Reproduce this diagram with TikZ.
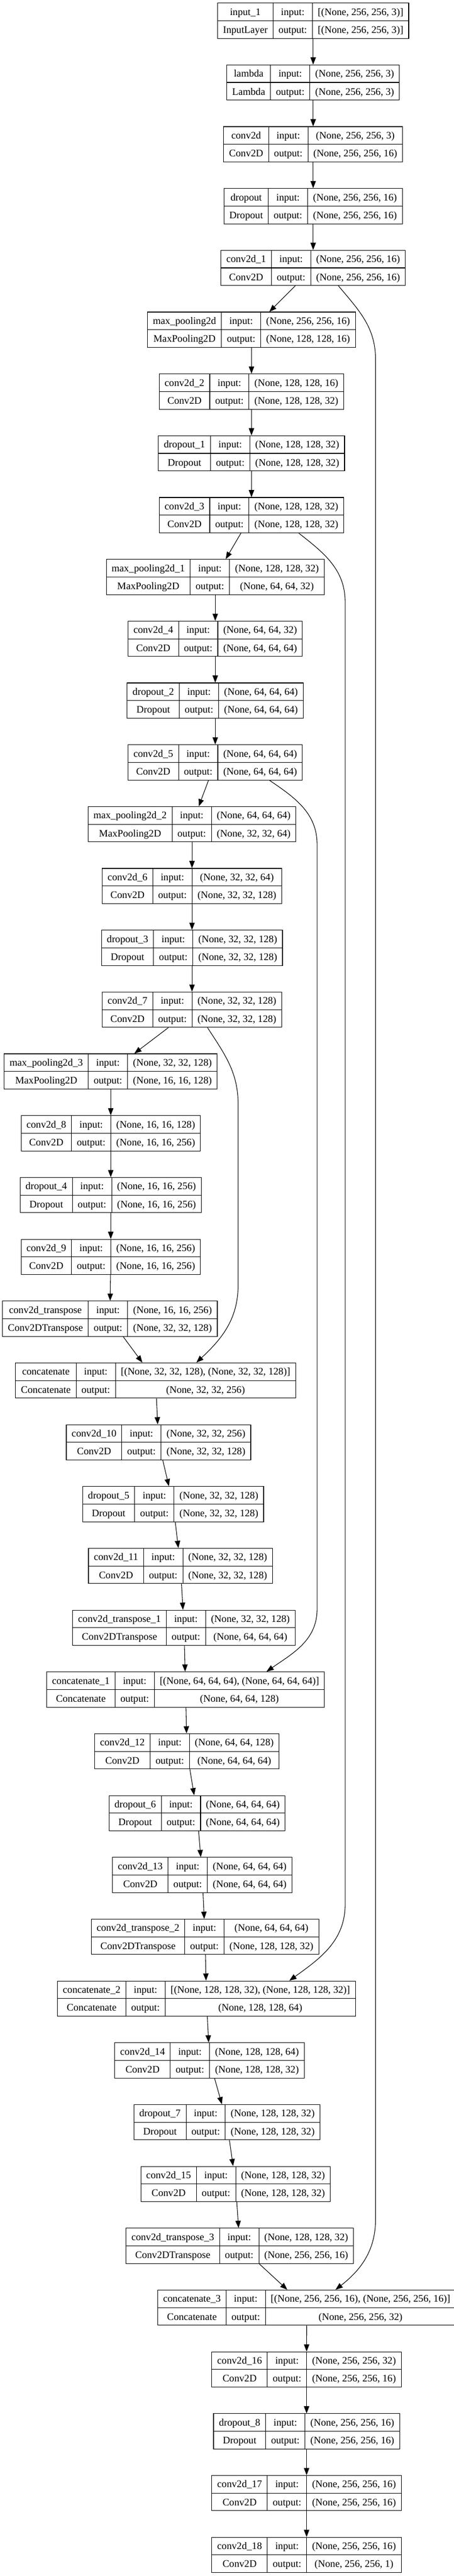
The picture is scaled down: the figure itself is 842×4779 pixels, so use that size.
\documentclass[tikz,border=0pt]{standalone}
\usepackage{fontspec}
\setmainfont{Liberation Serif}
\usetikzlibrary{arrows.meta}

\setlength{\tabcolsep}{7.5pt}
\setlength{\arrayrulewidth}{0.8pt}
\renewcommand{\arraystretch}{1.42}
\newcommand{\keraslayer}[4]{\begin{tabular}{c|c|c}#1 & input: & #3\\\hline #2 & output: & #4\end{tabular}}

\tikzset{
  layerbox/.style={draw, line width=0.8pt, inner sep=0pt, font=\fontsize{14}{17}\selectfont},
  flow/.style={-{Triangle[length=10pt,width=7.5pt]}, line width=0.8pt}
}

\begin{document}
\begin{tikzpicture}[x=0.75pt,y=-0.75pt]
\useasboundingbox (0,0) rectangle (842,4779);

% encoder
\node[layerbox] (in1) at (580.8,38.4) {\keraslayer{input\_1}{InputLayer}{[(None, 256, 256, 3)]}{[(None, 256, 256, 3)]}};
\node[layerbox] (lam) at (580.8,153.0) {\keraslayer{lambda}{Lambda}{(None, 256, 256, 3)}{(None, 256, 256, 3)}};
\node[layerbox] (c0) at (580.8,267.7) {\keraslayer{conv2d}{Conv2D}{(None, 256, 256, 3)}{(None, 256, 256, 16)}};
\node[layerbox] (d0) at (580.8,382.4) {\keraslayer{dropout}{Dropout}{(None, 256, 256, 16)}{(None, 256, 256, 16)}};
\node[layerbox] (c1) at (580.8,497.0) {\keraslayer{conv2d\_1}{Conv2D}{(None, 256, 256, 16)}{(None, 256, 256, 16)}};
\node[layerbox] (p0) at (466.4,611.7) {\keraslayer{max\_pooling2d}{MaxPooling2D}{(None, 256, 256, 16)}{(None, 128, 128, 16)}};
\node[layerbox] (c2) at (466.4,726.4) {\keraslayer{conv2d\_2}{Conv2D}{(None, 128, 128, 16)}{(None, 128, 128, 32)}};
\node[layerbox] (d1) at (466.4,841.0) {\keraslayer{dropout\_1}{Dropout}{(None, 128, 128, 32)}{(None, 128, 128, 32)}};
\node[layerbox] (c3) at (466.4,955.7) {\keraslayer{conv2d\_3}{Conv2D}{(None, 128, 128, 32)}{(None, 128, 128, 32)}};
\node[layerbox] (p1) at (399.2,1070.4) {\keraslayer{max\_pooling2d\_1}{MaxPooling2D}{(None, 128, 128, 32)}{(None, 64, 64, 32)}};
\node[layerbox] (c4) at (399.2,1185.1) {\keraslayer{conv2d\_4}{Conv2D}{(None, 64, 64, 32)}{(None, 64, 64, 64)}};
\node[layerbox] (d2) at (399.2,1299.7) {\keraslayer{dropout\_2}{Dropout}{(None, 64, 64, 64)}{(None, 64, 64, 64)}};
\node[layerbox] (c5) at (399.2,1414.4) {\keraslayer{conv2d\_5}{Conv2D}{(None, 64, 64, 64)}{(None, 64, 64, 64)}};
\node[layerbox] (p2) at (356.1,1529.1) {\keraslayer{max\_pooling2d\_2}{MaxPooling2D}{(None, 64, 64, 64)}{(None, 32, 32, 64)}};
\node[layerbox] (c6) at (356.1,1643.7) {\keraslayer{conv2d\_6}{Conv2D}{(None, 32, 32, 64)}{(None, 32, 32, 128)}};
\node[layerbox] (d3) at (356.1,1758.4) {\keraslayer{dropout\_3}{Dropout}{(None, 32, 32, 128)}{(None, 32, 32, 128)}};
\node[layerbox] (c7) at (356.1,1873.1) {\keraslayer{conv2d\_7}{Conv2D}{(None, 32, 32, 128)}{(None, 32, 32, 128)}};
\node[layerbox] (p3) at (205.4,1987.7) {\keraslayer{max\_pooling2d\_3}{MaxPooling2D}{(None, 32, 32, 128)}{(None, 16, 16, 128)}};
\node[layerbox] (c8) at (205.4,2102.4) {\keraslayer{conv2d\_8}{Conv2D}{(None, 16, 16, 128)}{(None, 16, 16, 256)}};
\node[layerbox] (d4) at (205.4,2217.1) {\keraslayer{dropout\_4}{Dropout}{(None, 16, 16, 256)}{(None, 16, 16, 256)}};
\node[layerbox] (c9) at (205.4,2331.8) {\keraslayer{conv2d\_9}{Conv2D}{(None, 16, 16, 256)}{(None, 16, 16, 256)}};

% decoder
\node[layerbox] (u0) at (203.8,2446.4) {\keraslayer{conv2d\_transpose}{Conv2DTranspose}{(None, 16, 16, 256)}{(None, 32, 32, 128)}};
\node[layerbox] (cat0) at (288.6,2561.1) {\keraslayer{concatenate}{Concatenate}{[(None, 32, 32, 128), (None, 32, 32, 128)]}{(None, 32, 32, 256)}};
\node[layerbox] (c10) at (294.0,2675.8) {\keraslayer{conv2d\_10}{Conv2D}{(None, 32, 32, 256)}{(None, 32, 32, 128)}};
\node[layerbox] (d5) at (321.1,2790.4) {\keraslayer{dropout\_5}{Dropout}{(None, 32, 32, 128)}{(None, 32, 32, 128)}};
\node[layerbox] (c11) at (334.7,2905.1) {\keraslayer{conv2d\_11}{Conv2D}{(None, 32, 32, 128)}{(None, 32, 32, 128)}};
\node[layerbox] (u1) at (341.2,3019.8) {\keraslayer{conv2d\_transpose\_1}{Conv2DTranspose}{(None, 32, 32, 128)}{(None, 64, 64, 64)}};
\node[layerbox] (cat1) at (344.2,3134.4) {\keraslayer{concatenate\_1}{Concatenate}{[(None, 64, 64, 64), (None, 64, 64, 64)]}{(None, 64, 64, 128)}};
\node[layerbox] (c12) at (346.6,3249.1) {\keraslayer{conv2d\_12}{Conv2D}{(None, 64, 64, 128)}{(None, 64, 64, 64)}};
\node[layerbox] (d6) at (365.6,3363.8) {\keraslayer{dropout\_6}{Dropout}{(None, 64, 64, 64)}{(None, 64, 64, 64)}};
\node[layerbox] (c13) at (375.1,3478.5) {\keraslayer{conv2d\_13}{Conv2D}{(None, 64, 64, 64)}{(None, 64, 64, 64)}};
\node[layerbox] (u2) at (380.2,3593.1) {\keraslayer{conv2d\_transpose\_2}{Conv2DTranspose}{(None, 64, 64, 64)}{(None, 128, 128, 32)}};
\node[layerbox] (cat2) at (382.9,3707.8) {\keraslayer{concatenate\_2}{Concatenate}{[(None, 128, 128, 32), (None, 128, 128, 32)]}{(None, 128, 128, 64)}};
\node[layerbox] (c14) at (388.6,3822.5) {\keraslayer{conv2d\_14}{Conv2D}{(None, 128, 128, 64)}{(None, 128, 128, 32)}};
\node[layerbox] (d7) at (420.9,3937.1) {\keraslayer{dropout\_7}{Dropout}{(None, 128, 128, 32)}{(None, 128, 128, 32)}};
\node[layerbox] (c15) at (436.9,4051.8) {\keraslayer{conv2d\_15}{Conv2D}{(None, 128, 128, 32)}{(None, 128, 128, 32)}};
\node[layerbox] (u3) at (444.7,4166.5) {\keraslayer{conv2d\_transpose\_3}{Conv2DTranspose}{(None, 128, 128, 32)}{(None, 256, 256, 16)}};
\node[layerbox] (cat3) at (568.8,4281.1) {\keraslayer{concatenate\_3}{Concatenate}{[(None, 256, 256, 16), (None, 256, 256, 16)]}{(None, 256, 256, 32)}};
\node[layerbox] (c16) at (568.6,4395.8) {\keraslayer{conv2d\_16}{Conv2D}{(None, 256, 256, 32)}{(None, 256, 256, 16)}};
\node[layerbox] (d8) at (568.6,4510.5) {\keraslayer{dropout\_8}{Dropout}{(None, 256, 256, 16)}{(None, 256, 256, 16)}};
\node[layerbox] (c17) at (568.6,4625.1) {\keraslayer{conv2d\_17}{Conv2D}{(None, 256, 256, 16)}{(None, 256, 256, 16)}};
\node[layerbox] (c18) at (568.6,4739.8) {\keraslayer{conv2d\_18}{Conv2D}{(None, 256, 256, 16)}{(None, 256, 256, 1)}};

% main chain
\foreach \a/\b in {in1/lam, lam/c0, c0/d0, d0/c1, c1/p0, p0/c2, c2/d1, d1/c3, c3/p1, p1/c4, c4/d2, d2/c5, c5/p2, p2/c6, c6/d3, d3/c7, c7/p3, p3/c8, c8/d4, d4/c9, c9/u0, u0/cat0, cat0/c10, c10/d5, d5/c11, c11/u1, u1/cat1, cat1/c12, c12/d6, d6/c13, c13/u2, u2/cat2, cat2/c14, c14/d7, d7/c15, c15/u3, u3/cat3, cat3/c16, c16/d8, d8/c17, c17/c18}
    \draw[flow] (\a) -- (\b);

% skip connections
\coordinate (skipAtop) at (696.5,667);
\coordinate (skipAbot) at (696.5,4117);
\coordinate (skipBtop) at (640.1,1117);
\coordinate (skipBbot) at (640.1,3533);
\coordinate (skipCtop) at (588.1,1567);
\coordinate (skipCbot) at (588.1,2985);
\coordinate (skipDtop) at (441.7,2050);
\coordinate (skipDbot) at (441.7,2383);

\draw[flow] ([xshift=35.1pt]c1.south) to[out=-50,in=90] (skipAtop) -- (skipAbot) to[out=-90,in=38] ([xshift=40.1pt]cat3.north);
\draw[flow] ([xshift=65.6pt]c3.south) to[out=-38,in=90] (skipBtop) -- (skipBbot) to[out=-90,in=36] ([xshift=115.3pt]cat2.north);
\draw[flow] ([xshift=75.4pt]c5.south) to[out=-34,in=90] (skipCtop) -- (skipCbot) to[out=-90,in=35] ([xshift=112.6pt]cat1.north);
\draw[flow] ([xshift=21.5pt]c7.south) to[out=-57,in=90] (skipDtop) -- (skipDbot) to[out=-90,in=43] ([xshift=56.7pt]cat0.north);

\end{tikzpicture}
\end{document}
